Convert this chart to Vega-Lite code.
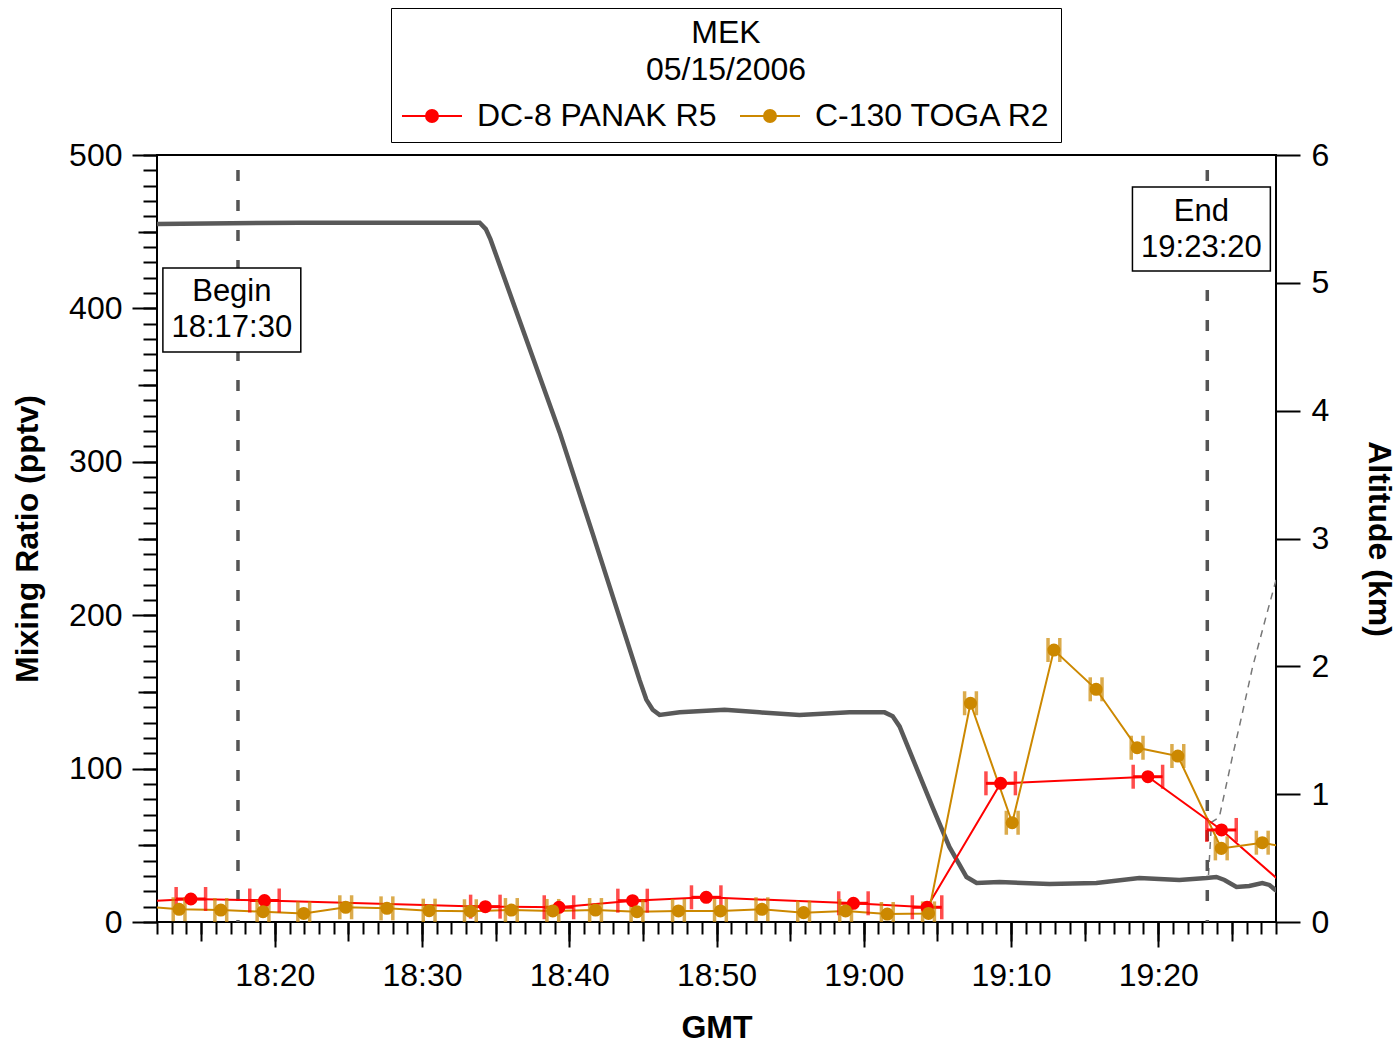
{
  "$schema": "https://vega.github.io/schema/vega-lite/v6.json",
  "width": 1119,
  "height": 767,
  "autosize": {"type": "none"},
  "padding": {"left": 157, "top": 155, "right": 123, "bottom": 123},
  "background": "white",
  "config": {
    "font": "Liberation Sans",
    "view": {"stroke": "black", "strokeWidth": 2},
    "axis": {
      "domain": false, "grid": false, "tickColor": "black", "tickWidth": 2,
      "labelColor": "black", "titleColor": "black",
      "labelFont": "Liberation Sans", "titleFont": "Liberation Sans",
      "labelFontSize": 32, "titleFontSize": 32, "titleFontWeight": "bold",
      "labelFlush": false, "labelOverlap": false, "labelBound": false
    },
    "text": {"font": "Liberation Sans"}
  },
  "datasets": {
    "notes": [
      {"event": "Begin", "time": "2006-05-15T18:17:30Z", "label": "Begin\n18:17:30", "label_time": "2006-05-15T18:17:05Z", "label_value": 410.4, "box_start": "2006-05-15T18:12:24Z", "box_end": "2006-05-15T18:21:46Z", "box_low": 371.6, "box_high": 426.3},
      {"event": "End", "time": "2006-05-15T19:23:20Z", "label": "End\n19:23:20", "label_time": "2006-05-15T19:22:56Z", "label_value": 462.8, "box_start": "2006-05-15T19:18:15Z", "box_end": "2006-05-15T19:27:37Z", "box_low": 424.4, "box_high": 479.1}
    ],
    "alt": [
      {"track": "A", "time": "2006-05-15T18:11:00Z", "km": 5.46},
      {"track": "A", "time": "2006-05-15T18:21:42Z", "km": 5.47},
      {"track": "A", "time": "2006-05-15T18:33:55Z", "km": 5.47},
      {"track": "A", "time": "2006-05-15T18:34:20Z", "km": 5.42},
      {"track": "A", "time": "2006-05-15T18:34:39Z", "km": 5.34},
      {"track": "A", "time": "2006-05-15T18:39:21Z", "km": 3.83},
      {"track": "A", "time": "2006-05-15T18:41:35Z", "km": 3.04},
      {"track": "A", "time": "2006-05-15T18:44:47Z", "km": 1.89},
      {"track": "A", "time": "2006-05-15T18:45:14Z", "km": 1.74},
      {"track": "A", "time": "2006-05-15T18:45:40Z", "km": 1.66},
      {"track": "A", "time": "2006-05-15T18:46:08Z", "km": 1.62},
      {"track": "A", "time": "2006-05-15T18:47:30Z", "km": 1.64},
      {"track": "A", "time": "2006-05-15T18:50:33Z", "km": 1.66},
      {"track": "A", "time": "2006-05-15T18:52:56Z", "km": 1.64},
      {"track": "A", "time": "2006-05-15T18:55:38Z", "km": 1.62},
      {"track": "A", "time": "2006-05-15T18:59:02Z", "km": 1.64},
      {"track": "A", "time": "2006-05-15T19:01:25Z", "km": 1.64},
      {"track": "A", "time": "2006-05-15T19:01:58Z", "km": 1.61},
      {"track": "A", "time": "2006-05-15T19:02:26Z", "km": 1.53},
      {"track": "A", "time": "2006-05-15T19:04:40Z", "km": 0.90},
      {"track": "A", "time": "2006-05-15T19:05:49Z", "km": 0.587},
      {"track": "A", "time": "2006-05-15T19:06:59Z", "km": 0.352},
      {"track": "A", "time": "2006-05-15T19:07:40Z", "km": 0.305},
      {"track": "A", "time": "2006-05-15T19:09:13Z", "km": 0.313},
      {"track": "A", "time": "2006-05-15T19:12:37Z", "km": 0.297},
      {"track": "A", "time": "2006-05-15T19:15:48Z", "km": 0.305},
      {"track": "A", "time": "2006-05-15T19:18:43Z", "km": 0.344},
      {"track": "A", "time": "2006-05-15T19:21:26Z", "km": 0.329},
      {"track": "A", "time": "2006-05-15T19:23:16Z", "km": 0.344},
      {"track": "A", "time": "2006-05-15T19:23:57Z", "km": 0.352},
      {"track": "A", "time": "2006-05-15T19:24:30Z", "km": 0.329},
      {"track": "A", "time": "2006-05-15T19:25:19Z", "km": 0.274},
      {"track": "A", "time": "2006-05-15T19:26:11Z", "km": 0.282},
      {"track": "A", "time": "2006-05-15T19:27:04Z", "km": 0.305},
      {"track": "A", "time": "2006-05-15T19:27:33Z", "km": 0.29},
      {"track": "A", "time": "2006-05-15T19:27:58Z", "km": 0.25},
      {"track": "A", "time": "2006-05-15T19:28:30Z", "km": 0.22},
      {"track": "B", "time": "2006-05-15T19:23:25Z", "km": 0.368},
      {"track": "B", "time": "2006-05-15T19:23:37Z", "km": 0.78},
      {"track": "B", "time": "2006-05-15T19:24:09Z", "km": 0.82},
      {"track": "B", "time": "2006-05-15T19:25:02Z", "km": 1.29},
      {"track": "B", "time": "2006-05-15T19:25:39Z", "km": 1.60},
      {"track": "B", "time": "2006-05-15T19:26:24Z", "km": 1.99},
      {"track": "B", "time": "2006-05-15T19:27:21Z", "km": 2.40},
      {"track": "B", "time": "2006-05-15T19:27:58Z", "km": 2.66},
      {"track": "B", "time": "2006-05-15T19:28:30Z", "km": 2.91}
    ],
    "mr": [
      {"series": "DC-8 PANAK R5", "time": "2006-05-15T18:09:18Z", "lo": "2006-05-15T18:08:18Z", "hi": "2006-05-15T18:10:18Z", "value": 12.6},
      {"series": "DC-8 PANAK R5", "time": "2006-05-15T18:14:18Z", "lo": "2006-05-15T18:13:18Z", "hi": "2006-05-15T18:15:18Z", "value": 15.0},
      {"series": "DC-8 PANAK R5", "time": "2006-05-15T18:19:18Z", "lo": "2006-05-15T18:18:18Z", "hi": "2006-05-15T18:20:18Z", "value": 14.0},
      {"series": "DC-8 PANAK R5", "time": "2006-05-15T18:34:18Z", "lo": "2006-05-15T18:33:18Z", "hi": "2006-05-15T18:35:18Z", "value": 10.0},
      {"series": "DC-8 PANAK R5", "time": "2006-05-15T18:39:18Z", "lo": "2006-05-15T18:38:18Z", "hi": "2006-05-15T18:40:18Z", "value": 9.6},
      {"series": "DC-8 PANAK R5", "time": "2006-05-15T18:44:18Z", "lo": "2006-05-15T18:43:18Z", "hi": "2006-05-15T18:45:18Z", "value": 13.9},
      {"series": "DC-8 PANAK R5", "time": "2006-05-15T18:49:18Z", "lo": "2006-05-15T18:48:18Z", "hi": "2006-05-15T18:50:18Z", "value": 16.1},
      {"series": "DC-8 PANAK R5", "time": "2006-05-15T18:59:18Z", "lo": "2006-05-15T18:58:18Z", "hi": "2006-05-15T19:00:18Z", "value": 12.2},
      {"series": "DC-8 PANAK R5", "time": "2006-05-15T19:04:18Z", "lo": "2006-05-15T19:03:18Z", "hi": "2006-05-15T19:05:18Z", "value": 9.6},
      {"series": "DC-8 PANAK R5", "time": "2006-05-15T19:09:18Z", "lo": "2006-05-15T19:08:18Z", "hi": "2006-05-15T19:10:18Z", "value": 90.4},
      {"series": "DC-8 PANAK R5", "time": "2006-05-15T19:19:18Z", "lo": "2006-05-15T19:18:18Z", "hi": "2006-05-15T19:20:18Z", "value": 94.7},
      {"series": "DC-8 PANAK R5", "time": "2006-05-15T19:24:18Z", "lo": "2006-05-15T19:23:18Z", "hi": "2006-05-15T19:25:18Z", "value": 60.0},
      {"series": "DC-8 PANAK R5", "time": "2006-05-15T19:29:18Z", "lo": "2006-05-15T19:28:18Z", "hi": "2006-05-15T19:30:18Z", "value": 18.0},
      {"series": "C-130 TOGA R2", "time": "2006-05-15T18:10:40Z", "lo": "2006-05-15T18:10:16Z", "hi": "2006-05-15T18:11:04Z", "value": 10.5},
      {"series": "C-130 TOGA R2", "time": "2006-05-15T18:13:30Z", "lo": "2006-05-15T18:13:06Z", "hi": "2006-05-15T18:13:54Z", "value": 8.3},
      {"series": "C-130 TOGA R2", "time": "2006-05-15T18:16:20Z", "lo": "2006-05-15T18:15:56Z", "hi": "2006-05-15T18:16:44Z", "value": 7.8},
      {"series": "C-130 TOGA R2", "time": "2006-05-15T18:19:12Z", "lo": "2006-05-15T18:18:48Z", "hi": "2006-05-15T18:19:36Z", "value": 6.7},
      {"series": "C-130 TOGA R2", "time": "2006-05-15T18:21:58Z", "lo": "2006-05-15T18:21:34Z", "hi": "2006-05-15T18:22:22Z", "value": 5.6},
      {"series": "C-130 TOGA R2", "time": "2006-05-15T18:24:49Z", "lo": "2006-05-15T18:24:25Z", "hi": "2006-05-15T18:25:13Z", "value": 9.6},
      {"series": "C-130 TOGA R2", "time": "2006-05-15T18:27:37Z", "lo": "2006-05-15T18:27:13Z", "hi": "2006-05-15T18:28:01Z", "value": 8.9},
      {"series": "C-130 TOGA R2", "time": "2006-05-15T18:30:29Z", "lo": "2006-05-15T18:30:05Z", "hi": "2006-05-15T18:30:53Z", "value": 7.4},
      {"series": "C-130 TOGA R2", "time": "2006-05-15T18:33:17Z", "lo": "2006-05-15T18:32:53Z", "hi": "2006-05-15T18:33:41Z", "value": 7.0},
      {"series": "C-130 TOGA R2", "time": "2006-05-15T18:36:04Z", "lo": "2006-05-15T18:35:40Z", "hi": "2006-05-15T18:36:28Z", "value": 7.8},
      {"series": "C-130 TOGA R2", "time": "2006-05-15T18:38:53Z", "lo": "2006-05-15T18:38:29Z", "hi": "2006-05-15T18:39:17Z", "value": 7.2},
      {"series": "C-130 TOGA R2", "time": "2006-05-15T18:41:47Z", "lo": "2006-05-15T18:41:23Z", "hi": "2006-05-15T18:42:11Z", "value": 7.8},
      {"series": "C-130 TOGA R2", "time": "2006-05-15T18:44:36Z", "lo": "2006-05-15T18:44:12Z", "hi": "2006-05-15T18:45:00Z", "value": 6.7},
      {"series": "C-130 TOGA R2", "time": "2006-05-15T18:47:25Z", "lo": "2006-05-15T18:47:01Z", "hi": "2006-05-15T18:47:49Z", "value": 7.2},
      {"series": "C-130 TOGA R2", "time": "2006-05-15T18:50:16Z", "lo": "2006-05-15T18:49:52Z", "hi": "2006-05-15T18:50:40Z", "value": 7.2},
      {"series": "C-130 TOGA R2", "time": "2006-05-15T18:53:05Z", "lo": "2006-05-15T18:52:41Z", "hi": "2006-05-15T18:53:29Z", "value": 8.3},
      {"series": "C-130 TOGA R2", "time": "2006-05-15T18:55:55Z", "lo": "2006-05-15T18:55:31Z", "hi": "2006-05-15T18:56:19Z", "value": 6.1},
      {"series": "C-130 TOGA R2", "time": "2006-05-15T18:58:46Z", "lo": "2006-05-15T18:58:22Z", "hi": "2006-05-15T18:59:10Z", "value": 7.2},
      {"series": "C-130 TOGA R2", "time": "2006-05-15T19:01:36Z", "lo": "2006-05-15T19:01:12Z", "hi": "2006-05-15T19:02:00Z", "value": 5.2},
      {"series": "C-130 TOGA R2", "time": "2006-05-15T19:04:24Z", "lo": "2006-05-15T19:04:00Z", "hi": "2006-05-15T19:04:48Z", "value": 5.6},
      {"series": "C-130 TOGA R2", "time": "2006-05-15T19:07:15Z", "lo": "2006-05-15T19:06:51Z", "hi": "2006-05-15T19:07:39Z", "value": 142.6},
      {"series": "C-130 TOGA R2", "time": "2006-05-15T19:10:05Z", "lo": "2006-05-15T19:09:41Z", "hi": "2006-05-15T19:10:29Z", "value": 64.7},
      {"series": "C-130 TOGA R2", "time": "2006-05-15T19:12:55Z", "lo": "2006-05-15T19:12:31Z", "hi": "2006-05-15T19:13:19Z", "value": 177.3},
      {"series": "C-130 TOGA R2", "time": "2006-05-15T19:15:47Z", "lo": "2006-05-15T19:15:23Z", "hi": "2006-05-15T19:16:11Z", "value": 151.7},
      {"series": "C-130 TOGA R2", "time": "2006-05-15T19:18:34Z", "lo": "2006-05-15T19:18:10Z", "hi": "2006-05-15T19:18:58Z", "value": 113.6},
      {"series": "C-130 TOGA R2", "time": "2006-05-15T19:21:20Z", "lo": "2006-05-15T19:20:56Z", "hi": "2006-05-15T19:21:44Z", "value": 108.2},
      {"series": "C-130 TOGA R2", "time": "2006-05-15T19:24:17Z", "lo": "2006-05-15T19:23:53Z", "hi": "2006-05-15T19:24:41Z", "value": 48.0},
      {"series": "C-130 TOGA R2", "time": "2006-05-15T19:27:04Z", "lo": "2006-05-15T19:26:40Z", "hi": "2006-05-15T19:27:28Z", "value": 51.7},
      {"series": "C-130 TOGA R2", "time": "2006-05-15T19:29:54Z", "lo": "2006-05-15T19:29:30Z", "hi": "2006-05-15T19:30:18Z", "value": 46.5}
    ]
  },
  "layer": [
    {
      "data": {"name": "alt"},
      "encoding": {
        "x": {"field": "time", "type": "temporal", "scale": {"type": "utc", "nice": false, "domain": [1147716720000, 1147721280000]}, "axis": null},
        "y": {"field": "km", "type": "quantitative", "scale": {"domain": [0, 6], "nice": false, "zero": false},
          "axis": {"orient": "right", "values": [0, 1, 2, 3, 4, 5, 6], "tickSize": 24, "labelPadding": 11, "title": "Altitude  (km)", "titleX": 102, "titleY": 383.5, "titleAngle": 90, "titleBaseline": "middle"}}
      },
      "layer": [
        {"transform": [{"filter": "datum.track === 'A'"}], "mark": {"type": "line", "color": "#595959", "strokeWidth": 4.5, "clip": true}},
        {"transform": [{"filter": "datum.track === 'B'"}], "mark": {"type": "line", "color": "#777777", "strokeWidth": 1.5, "strokeDash": [7, 6], "clip": true}}
      ]
    },
    {
      "layer": [
        {
          "data": {"name": "notes"},
          "mark": {"type": "rule", "color": "#555555", "strokeWidth": 3.5, "strokeDash": [11, 19], "strokeDashOffset": -15},
          "encoding": {
            "x": {"field": "time", "type": "temporal", "scale": {"type": "utc", "nice": false, "domain": [1147716720000, 1147721280000]},
              "axis": {"orient": "bottom", "values": [1147716720000, 1147716780000, 1147716840000, 1147716900000, 1147716960000, 1147717020000, 1147717080000, 1147717140000, 1147717200000, 1147717260000, 1147717320000, 1147717380000, 1147717440000, 1147717500000, 1147717560000, 1147717620000, 1147717680000, 1147717740000, 1147717800000, 1147717860000, 1147717920000, 1147717980000, 1147718040000, 1147718100000, 1147718160000, 1147718220000, 1147718280000, 1147718340000, 1147718400000, 1147718460000, 1147718520000, 1147718580000, 1147718640000, 1147718700000, 1147718760000, 1147718820000, 1147718880000, 1147718940000, 1147719000000, 1147719060000, 1147719120000, 1147719180000, 1147719240000, 1147719300000, 1147719360000, 1147719420000, 1147719480000, 1147719540000, 1147719600000, 1147719660000, 1147719720000, 1147719780000, 1147719840000, 1147719900000, 1147719960000, 1147720020000, 1147720080000, 1147720140000, 1147720200000, 1147720260000, 1147720320000, 1147720380000, 1147720440000, 1147720500000, 1147720560000, 1147720620000, 1147720680000, 1147720740000, 1147720800000, 1147720860000, 1147720920000, 1147720980000, 1147721040000, 1147721100000, 1147721160000, 1147721220000, 1147721280000], "tickSize": 12, "labels": false, "title": null}}
          }
        },
        {
          "data": {"name": "notes"},
          "mark": {"type": "rect", "fill": "white", "stroke": "black", "strokeWidth": 1.5},
          "encoding": {
            "x": {"field": "box_start", "type": "temporal", "axis": {"orient": "bottom", "values": [1147716900000, 1147717200000, 1147717500000, 1147717800000, 1147718100000, 1147718400000, 1147718700000, 1147719000000, 1147719300000, 1147719600000, 1147719900000, 1147720200000, 1147720500000, 1147720800000, 1147721100000], "tickSize": 19, "labels": false, "title": null}},
            "x2": {"field": "box_end"},
            "y": {"field": "box_low", "type": "quantitative", "scale": {"domain": [0, 500], "nice": false, "zero": false},
              "axis": {"orient": "left", "values": [0, 10, 20, 30, 40, 50, 60, 70, 80, 90, 100, 110, 120, 130, 140, 150, 160, 170, 180, 190, 200, 210, 220, 230, 240, 250, 260, 270, 280, 290, 300, 310, 320, 330, 340, 350, 360, 370, 380, 390, 400, 410, 420, 430, 440, 450, 460, 470, 480, 490, 500], "tickSize": 14, "labels": false, "title": null}},
            "y2": {"field": "box_high"}
          }
        },
        {
          "data": {"name": "notes"},
          "mark": {"type": "text", "fontSize": 31, "lineBreak": "\n", "lineHeight": 36, "align": "center", "baseline": "middle", "color": "black"},
          "encoding": {
            "x": {"field": "label_time", "type": "temporal",
              "axis": {"orient": "bottom", "values": [1147717200000, 1147717800000, 1147718400000, 1147719000000, 1147719600000, 1147720200000, 1147720800000], "labelExpr": "utcFormat(datum.value, '%H:%M')", "tickSize": 25, "labelPadding": 13, "title": "GMT", "titleX": 559.5, "titleY": 105, "titleBaseline": "middle"}},
            "y": {"field": "label_value", "type": "quantitative", "axis": {"orient": "left", "values": [50, 150, 250, 350, 450], "tickSize": 19, "labels": false, "title": null}},
            "text": {"field": "label"}
          }
        },
        {
          "data": {"name": "mr"},
          "encoding": {
            "x": {"field": "time", "type": "temporal", "axis": null},
            "y": {"field": "value", "type": "quantitative",
              "axis": {"orient": "left", "values": [0, 100, 200, 300, 400, 500], "tickSize": 25, "labelPadding": 10, "title": "Mixing Ratio (pptv)", "titleX": -130, "titleY": 383.5, "titleAngle": -90, "titleBaseline": "middle"}},
            "color": {"field": "series", "type": "nominal",
              "scale": {"domain": ["DC-8 PANAK R5", "C-130 TOGA R2"], "range": ["#ff0000", "#cc8800"]},
              "legend": {
                "title": ["MEK", "05/15/2006"],
                "orient": "none", "legendX": 234, "legendY": -147,
                "direction": "horizontal",
                "titleFont": "Liberation Sans", "titleFontSize": 32, "titleFontWeight": "normal", "titleColor": "black",
                "titleAnchor": "middle", "titleAlign": "center", "titleLimit": 2000, "titleLineHeight": 37, "titlePadding": -2,
                "labelFont": "Liberation Sans", "labelFontSize": 32, "labelColor": "black", "labelLimit": 2000, "labelOffset": 14,
                "symbolType": "M-1,0H1M-0.2,0A0.2,0.2,0,1,1,0.2,0A0.2,0.2,0,1,1,-0.2,0Z",
                "symbolSize": 3600, "symbolStrokeWidth": 2, "symbolOpacity": 1,
                "columnPadding": 19, "padding": 10,
                "strokeColor": "black", "fillColor": "white"
              }}
          },
          "layer": [
            {"mark": {"type": "line", "strokeWidth": 2, "clip": true}},
            {"mark": {"type": "rule", "strokeWidth": 3, "clip": true},
              "encoding": {"x": {"field": "lo", "type": "temporal", "axis": null}, "x2": {"field": "hi"}}},
            {"mark": {"type": "tick", "orient": "vertical", "thickness": 3.5, "size": 24, "clip": true},
              "encoding": {"x": {"field": "lo", "type": "temporal", "axis": null}}},
            {"mark": {"type": "tick", "orient": "vertical", "thickness": 3.5, "size": 24, "clip": true},
              "encoding": {"x": {"field": "hi", "type": "temporal", "axis": null}}},
            {"mark": {"type": "circle", "size": 170, "opacity": 1, "clip": true}}
          ]
        }
      ],
      "resolve": {"axis": {"x": "independent", "y": "independent"}}
    }
  ],
  "resolve": {"scale": {"y": "independent"}, "axis": {"x": "independent", "y": "independent"}}
}
